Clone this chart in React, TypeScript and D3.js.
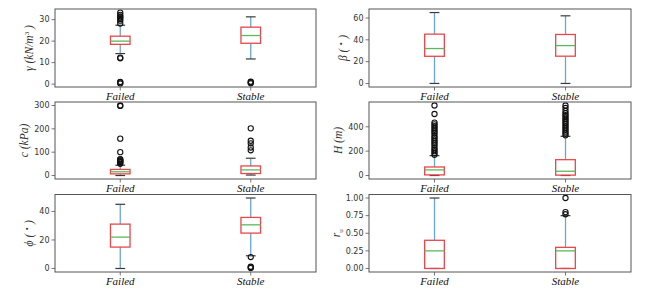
import React from "react";
import * as d3 from "d3";

const categories = ["Failed", "Stable"];

// [whiskerLow, q1, median, q3, whiskerHigh] per category
const gammaStats = [[14.2, 18.5, 20.0, 22.3, 27.4], [11.7, 19.0, 22.6, 26.5, 31.3]];
const gammaOutliers = [[0.3, 0.8, 1.0, 12.0, 12.3, 28.2, 29.5, 30.3, 31.0, 31.5, 32.2, 33.3], [0.4, 0.9, 1.1]];

const betaStats = [[0, 24.9, 32.0, 45.2, 65.0], [0, 25.0, 34.7, 44.9, 62.0]];
const betaOutliers: number[][] = [[], []];

const cStats = [[0, 7, 16, 26, 44], [2, 8.5, 24, 41, 74]];
const cOutliers = [[50, 55, 58, 62, 65, 68, 70, 100, 158, 298, 300], [108, 120, 138, 149, 202]];

const hStats = [[0, 5, 46, 70, 163], [0, 3, 35, 130, 322]];
const hOutliers = [
  [170, 185, 200, 215, 230, 250, 265, 280, 295, 310, 325, 345, 360, 375, 390, 405, 420, 435, 505, 575],
  [330, 345, 360, 375, 390, 405, 420, 435, 450, 465, 480, 495, 510, 530, 555, 575],
];

const phiStats = [[0, 15, 22, 31.1, 45], [8.9, 24.8, 30.6, 35.8, 49.4]];
const phiOutliers = [[], [8.0, 0.3, 0.8, 1.2]];

const ruStats = [[0, 0, 0.25, 0.4, 1.0], [0, 0, 0.25, 0.3, 0.75]];
const ruOutliers = [[], [0.77, 0.8, 1.0]];

const gammaTicks = [0, 10, 20, 30];
const betaTicks = [0, 20, 40, 60];
const cTicks = [0, 100, 200, 300];
const hTicks = [0, 200, 400];
const phiTicks = [0, 20, 40];
const ruTicks = [0, 0.25, 0.5, 0.75, 1.0];

type LabelPart = { t: string; sup?: boolean; sub?: boolean; italic?: boolean };

const panels = [
  { stats: gammaStats, outliers: gammaOutliers, ticks: gammaTicks, fmt: d3.format("d"), col: 0, row: 0,
    label: [{ t: "γ (", italic: true }, { t: "kN/m", italic: true }, { t: "3", sup: true }, { t: " )", italic: true }] as LabelPart[] },
  { stats: betaStats, outliers: betaOutliers, ticks: betaTicks, fmt: d3.format("d"), col: 1, row: 0,
    label: [{ t: "β ( ", italic: true }, { t: "∘", sup: true }, { t: " )", italic: true }] as LabelPart[] },
  { stats: cStats, outliers: cOutliers, ticks: cTicks, fmt: d3.format("d"), col: 0, row: 1,
    label: [{ t: "c (kPa)", italic: true }] as LabelPart[] },
  { stats: hStats, outliers: hOutliers, ticks: hTicks, fmt: d3.format("d"), col: 1, row: 1,
    label: [{ t: "H (m)", italic: true }] as LabelPart[] },
  { stats: phiStats, outliers: phiOutliers, ticks: phiTicks, fmt: d3.format("d"), col: 0, row: 2,
    label: [{ t: "ϕ ( ", italic: true }, { t: "∘", sup: true }, { t: " )", italic: true }] as LabelPart[] },
  { stats: ruStats, outliers: ruOutliers, ticks: ruTicks, fmt: d3.format(".2f"), col: 1, row: 2,
    label: [{ t: "r", italic: true }, { t: "u", sub: true }] as LabelPart[] },
];

const W = 656;
const H = 298;
const colX = [[55, 316], [369, 631]];
const rowY = [[9, 87], [102, 179], [194.5, 272]];

const BOX = "#e8474b";
const MED = "#5cb85c";
const WHISK = "#6aa5d8";
const CAP = "#3a3a3a";
const FRAME = "#555555";
const TXT = "#333333";

function Panel({ p }: { p: (typeof panels)[number] }) {
  const [x0, x1] = colX[p.col];
  const [y0, y1] = rowY[p.row];
  const x = d3.scaleLinear().domain([0.5, 2.5]).range([x0, x1]);
  const all = p.stats.flat().concat(p.outliers.flat());
  const lo = d3.min(all) as number;
  const hi = d3.max(all) as number;
  const pad = (hi - lo) * 0.05;
  const y = d3.scaleLinear().domain([lo - pad, hi + pad]).range([y1, y0]);
  const bw = x(1.15) - x(1);
  const cw = bw / 2;
  const maxLen = d3.max(p.ticks.map((t) => p.fmt(t).length)) as number;
  const tickW = maxLen === 4 ? 18 : maxLen * 5.3;
  const labX = x0 - 3.5 - 3 - tickW - 4.5;
  const labY = (y0 + y1) / 2;
  const fs = 11.5;
  return (
    <g>
      {categories.map((c, i) => {
        const s = p.stats[i];
        const cx = x(i + 1);
        return (
          <g key={c}>
            <line x1={cx} x2={cx} y1={y(s[0])} y2={y(s[1])} stroke={WHISK} strokeWidth={1.3} />
            <line x1={cx} x2={cx} y1={y(s[3])} y2={y(s[4])} stroke={WHISK} strokeWidth={1.3} />
            <line x1={cx - cw / 2} x2={cx + cw / 2} y1={y(s[0])} y2={y(s[0])} stroke={CAP} strokeWidth={1.2} />
            <line x1={cx - cw / 2} x2={cx + cw / 2} y1={y(s[4])} y2={y(s[4])} stroke={CAP} strokeWidth={1.2} />
            <rect x={cx - bw / 2} y={y(s[3])} width={bw} height={Math.max(0, y(s[1]) - y(s[3]))} fill="none" stroke={BOX} strokeWidth={1.3} />
            <line x1={cx - bw / 2} x2={cx + bw / 2} y1={y(s[2])} y2={y(s[2])} stroke={MED} strokeWidth={1.3} />
            {p.outliers[i].map((o, k) => (
              <circle key={k} cx={cx} cy={y(o)} r={2.6} fill="none" stroke="#111" strokeWidth={1.1} />
            ))}
            <line x1={cx} x2={cx} y1={y1} y2={y1 + 3.5} stroke={FRAME} strokeWidth={0.8} />
            <text x={cx} y={y1 + 12.5} textAnchor="middle" fontFamily="'Liberation Serif', 'Times New Roman', serif" fontStyle="italic" fontSize={11} fill="#111">
              {c}
            </text>
          </g>
        );
      })}
      {p.ticks.map((t) => (
        <g key={t}>
          <line x1={x0 - 3.5} x2={x0} y1={y(t)} y2={y(t)} stroke={FRAME} strokeWidth={0.8} />
          <text x={x0 - 5.5} y={y(t)} dy="0.35em" textAnchor="end" fontFamily="'DejaVu Sans', sans-serif" fontSize={8} fill={TXT}>
            {p.fmt(t)}
          </text>
        </g>
      ))}
      <rect x={x0} y={y0} width={x1 - x0} height={y1 - y0} fill="none" stroke={FRAME} strokeWidth={1} />
      <text transform={`translate(${labX},${labY}) rotate(-90)`} textAnchor="middle" fontFamily="'Liberation Serif', 'Times New Roman', serif" fontSize={fs} fill={TXT}>
        {p.label.map((part, k) => (
          <tspan key={k} fontStyle={part.italic ? "italic" : "normal"} fontSize={part.sup || part.sub ? 7 : fs} dy={part.sup ? -4.5 : part.sub ? 2.5 : k > 0 && p.label[k - 1].sup ? 4.5 : 0}>
            {part.t}
          </tspan>
        ))}
      </text>
    </g>
  );
}

export default function App() {
  return (
    <svg width={W} height={H} style={{ position: "absolute", left: 0, top: 0, background: "#fff" }}>
      <rect width={W} height={H} fill="#fff" />
      {panels.map((p, i) => (
        <Panel key={i} p={p} />
      ))}
    </svg>
  );
}
